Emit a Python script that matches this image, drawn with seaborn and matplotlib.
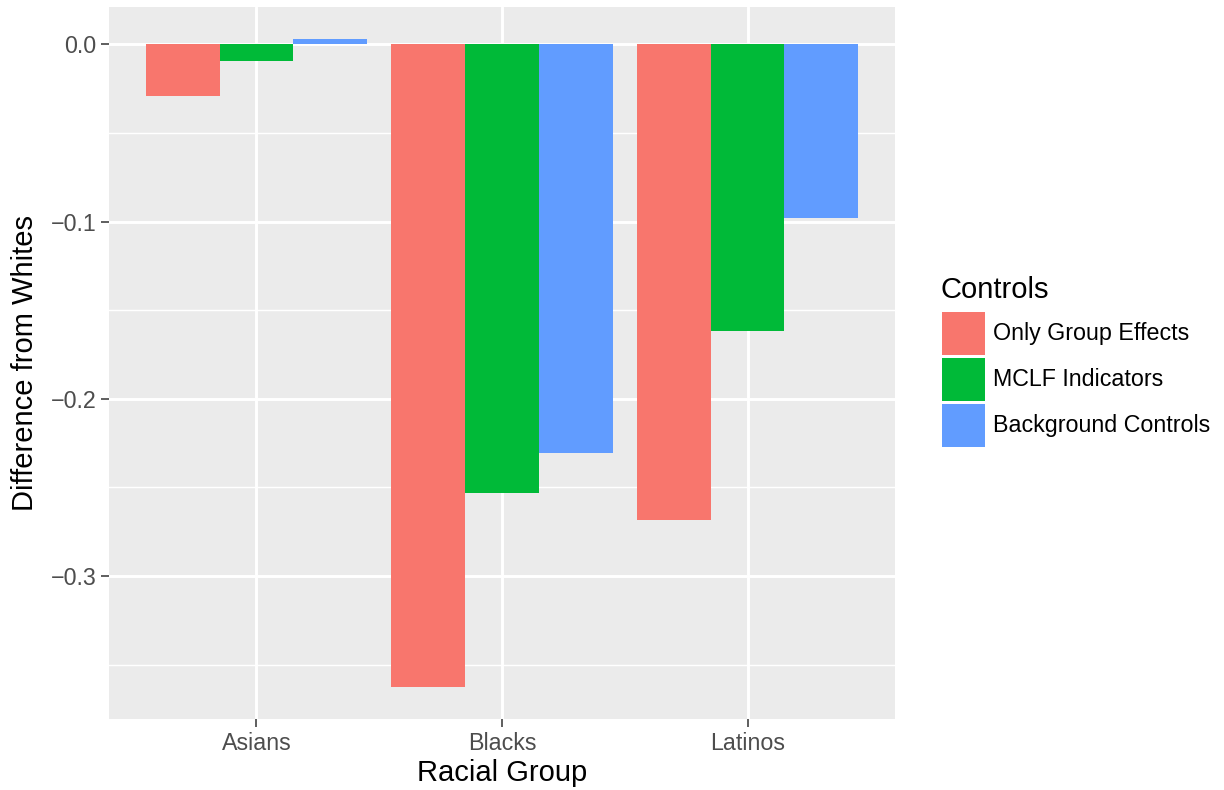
import pandas as pd
import matplotlib.pyplot as plt
import seaborn as sns
from matplotlib.patches import Rectangle
from matplotlib.ticker import FixedLocator

# Data
groups = ["Asians", "Blacks", "Latinos"]
controls = ["Only Group Effects", "MCLF Indicators", "Background Controls"]
only_group = [-0.0293, -0.3624, -0.2685]
mclf = [-0.0096, -0.2532, -0.1619]
background = [0.0028, -0.2307, -0.0981]
colors = ["#F8766D", "#00BA38", "#619CFF"]

df = pd.DataFrame({
    "group": groups * 3,
    "control": [c for c in controls for _ in groups],
    "diff": only_group + mclf + background,
})

sns.set_theme(style="darkgrid")
plt.rcParams["font.family"] = ["Liberation Sans", "DejaVu Sans"]

W, H = 1224, 790
fig = plt.figure(figsize=(6.12, 3.95), dpi=200)
ax = fig.add_axes([109 / W, 1 - 719 / H, (895 - 109) / W, (719 - 7) / H])
ax.set_facecolor("#EBEBEB")

sns.barplot(data=df, x="group", y="diff", hue="control", hue_order=controls,
            order=groups, palette=colors, width=0.9, saturation=1,
            ax=ax, legend=False)
for p in ax.patches:
    p.set_edgecolor("none")
    p.set_linewidth(0)

ax.set_xlim(-0.6, 2.6)
ax.set_ylim(-0.3807, 0.0211)
ax.set_yticks([0.0, -0.1, -0.2, -0.3])
ax.set_yticklabels(["0.0", "\u22120.1", "\u22120.2", "\u22120.3"])
ax.yaxis.set_minor_locator(FixedLocator([-0.05, -0.15, -0.25, -0.35]))

ax.grid(which="major", color="white", linewidth=1.07)
ax.grid(which="minor", color="white", linewidth=0.53)
ax.set_axisbelow(True)
for s in ax.spines.values():
    s.set_visible(False)

ax.tick_params(axis="both", which="major", length=2.75, width=0.55,
               color="#333333", labelcolor="#4D4D4D", labelsize=8.4,
               bottom=True, left=True, pad=1.8)
ax.tick_params(axis="y", which="minor", length=0, left=False)

ax.set_xlabel("Racial Group", fontsize=10.5, color="black", labelpad=1.5)
ax.set_ylabel("Difference from Whites", fontsize=10.5, color="black", labelpad=4)

# legend drawn by hand, ggplot style
fig.text(941 / W, 1 - 298 / H, "Controls", fontsize=10.5, color="black",
         va="baseline", ha="left")
for i, (c, lab) in enumerate(zip(colors, controls)):
    top = 312 + 46 * i
    fig.patches.append(Rectangle((942 / W, 1 - (top + 43) / H), 43 / W, 43 / H,
                                 transform=fig.transFigure, facecolor=c,
                                 edgecolor="none"))
    fig.text(993 / W, 1 - (top + 21.5) / H, lab, fontsize=8.4, color="black",
             va="center", ha="left")

fig.savefig("out.png", dpi=200, facecolor="white")
